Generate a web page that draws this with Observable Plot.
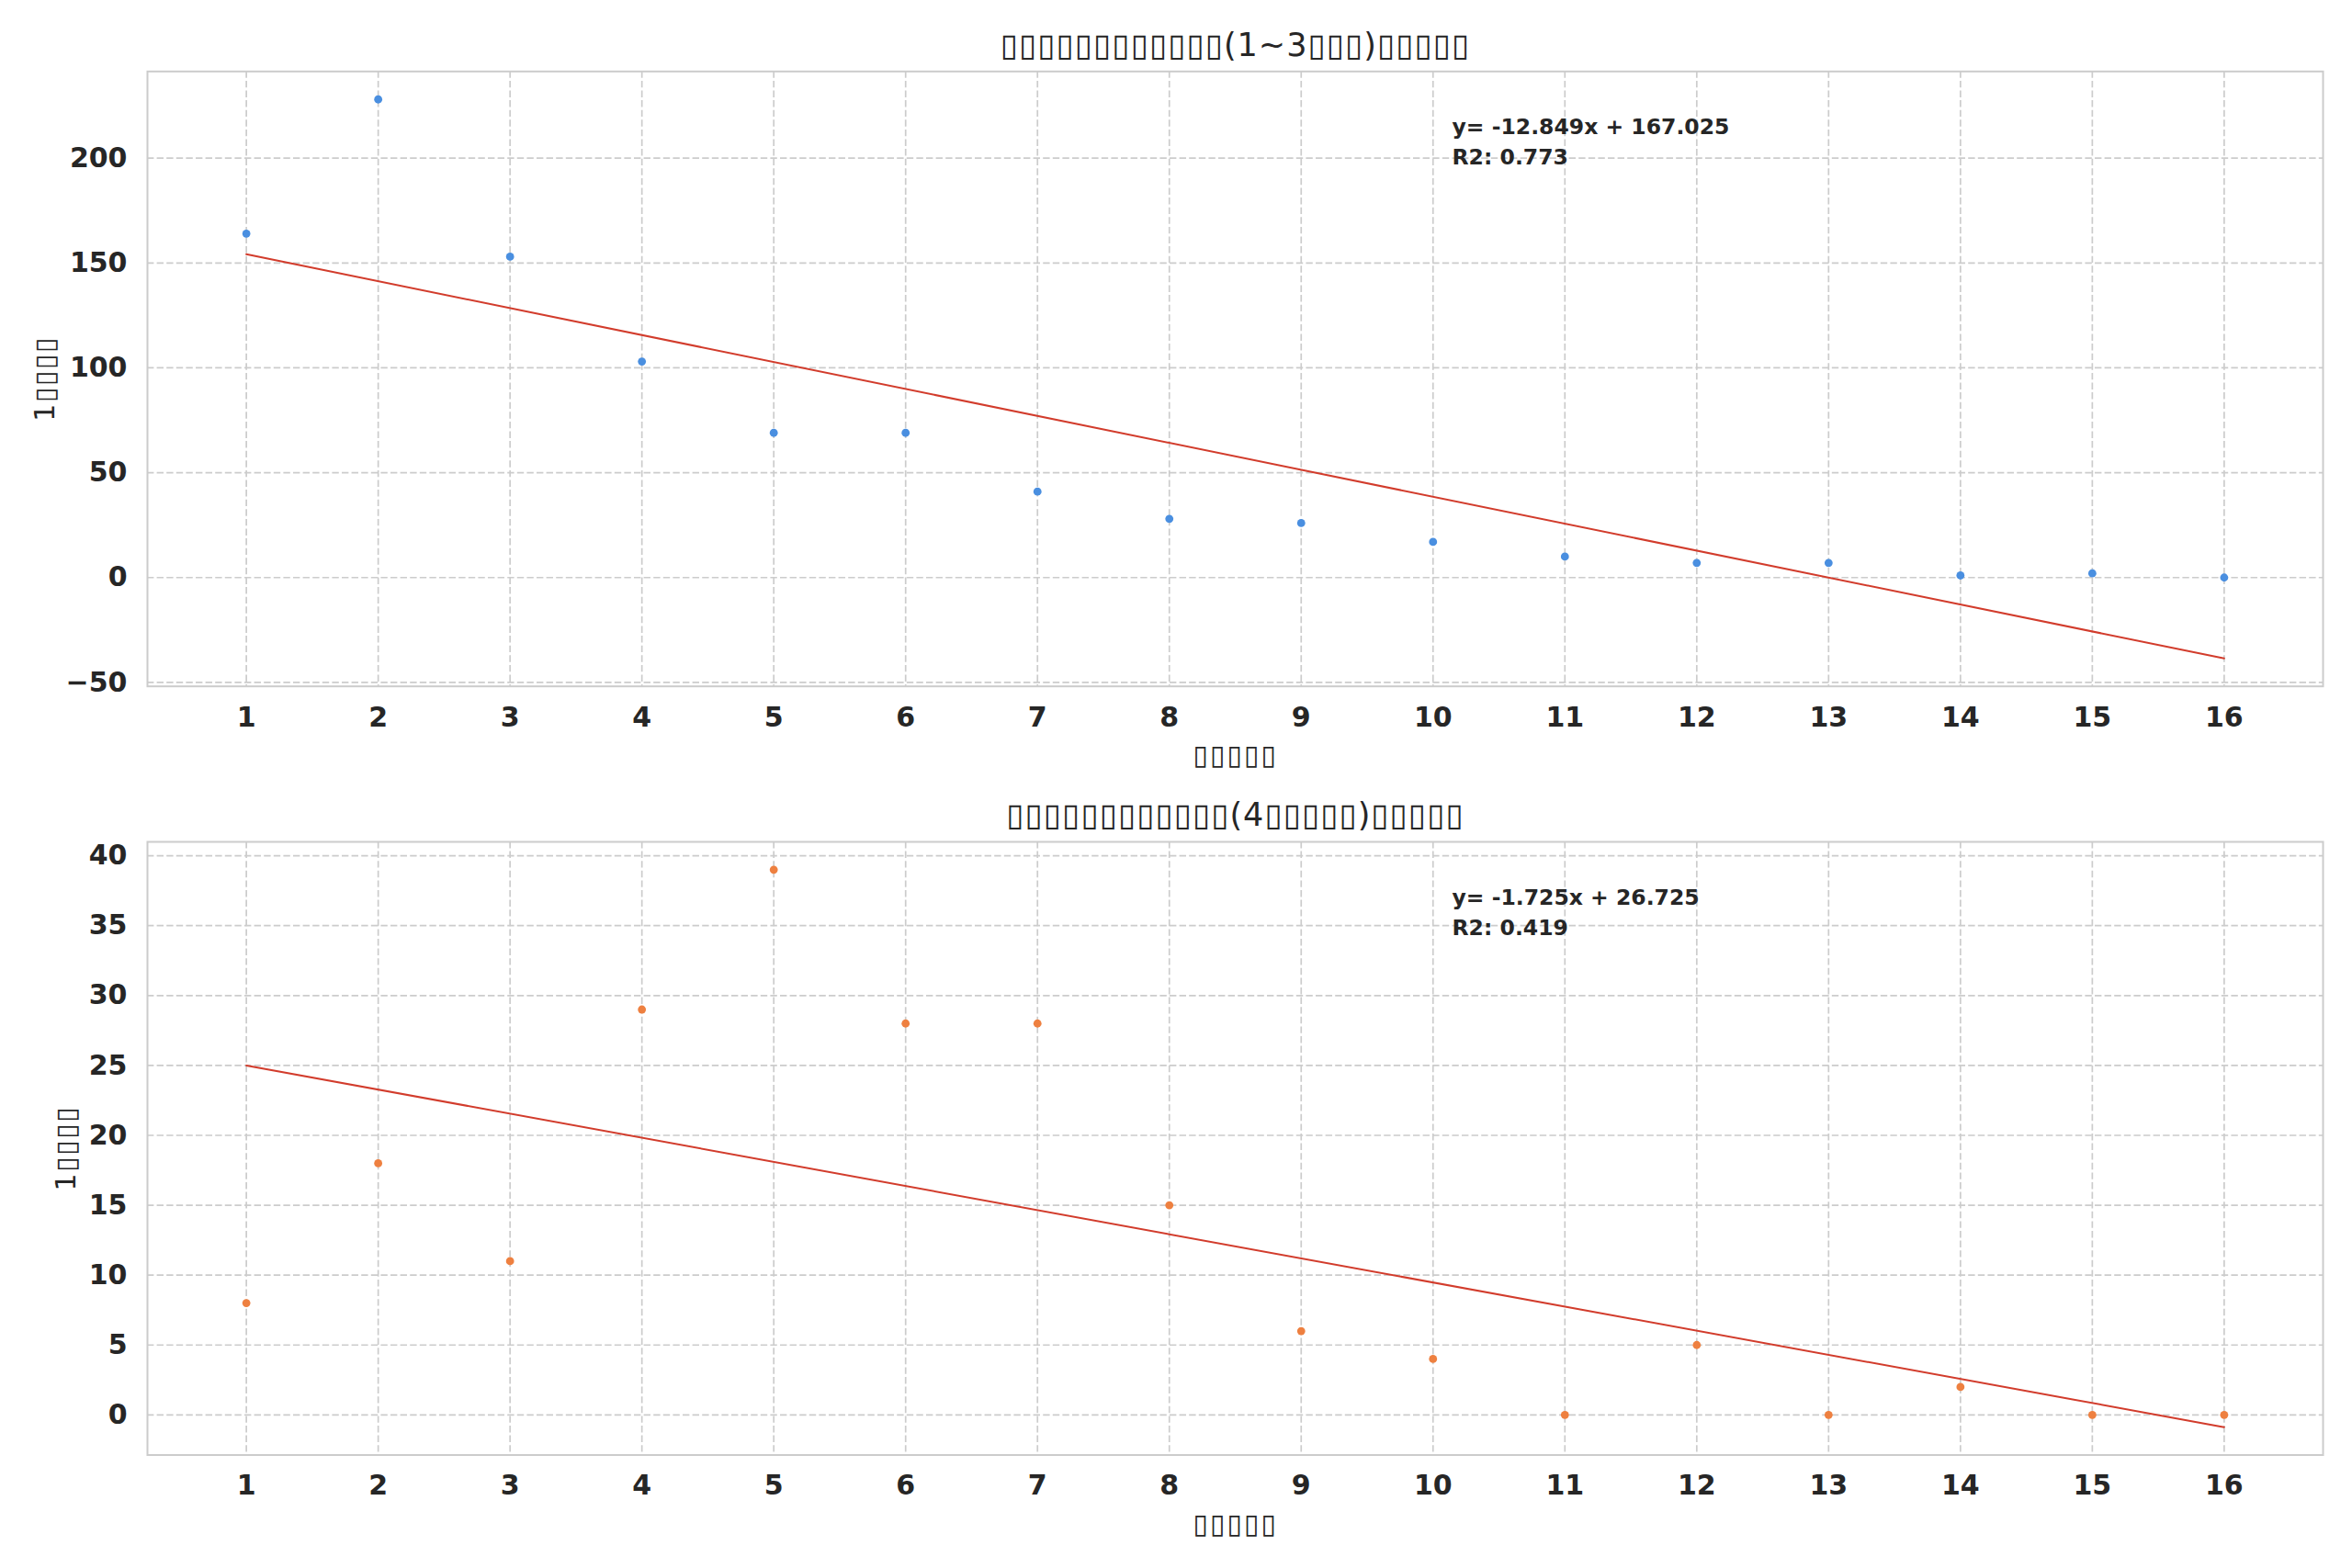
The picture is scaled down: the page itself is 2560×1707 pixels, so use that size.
<!DOCTYPE html>
<html>
<head>
<meta charset="utf-8">
<script src="https://cdn.jsdelivr.net/npm/d3@7"></script>
<script src="https://cdn.jsdelivr.net/npm/@observablehq/plot@0.6"></script>
<style>
  html, body { margin: 0; padding: 0; background: #ffffff; }
  body { width: 2560px; height: 1707px; position: relative; overflow: hidden; font-family: "DejaVu Sans", sans-serif; }
  .panel { position: absolute; left: 0; }
  .panel svg { overflow: visible; }
</style>
</head>
<body>
<div id="top" class="panel" style="top:0px"></div>
<div id="bottom" class="panel" style="top:860px"></div>
<script>
// ---- data ----
const days = [1, 2, 3, 4, 5, 6, 7, 8, 9, 10, 11, 12, 13, 14, 15, 16];
const salesShort = [164, 228, 153, 103, 69, 69, 41, 28, 26, 17, 10, 7, 7, 1, 2, 0];
const salesLong = [8, 18, 11, 29, 39, 28, 28, 15, 6, 4, 0, 5, 0, 2, 0, 0];
const yTicksShort = [-50, 0, 50, 100, 150, 200];
const yTicksLong = [0, 5, 10, 15, 20, 25, 30, 35, 40];
// text as it appears in the reference (glyphs rendered as missing-glyph boxes)
const B = "\u25AF";
const titleShort = B.repeat(12) + "(1~3" + B.repeat(3) + ")" + B.repeat(5);
const titleLong = B.repeat(12) + "(4" + B.repeat(5) + ")" + B.repeat(5);
const xLabel = B.repeat(5);
const yLabel = "1" + B.repeat(4);

const textColor = "#262626";
const gridColor = "#cccccc";
const lineColor = "#d23c2c";

function fit(xs, ys) {
  const mx = d3.mean(xs), my = d3.mean(ys);
  const sxy = d3.sum(xs, (x, i) => (x - mx) * (ys[i] - my));
  const sxx = d3.sum(xs, x => (x - mx) ** 2);
  const slope = sxy / sxx, intercept = my - slope * mx;
  const ssr = d3.sum(ys, (y, i) => (y - (slope * xs[i] + intercept)) ** 2);
  const sst = d3.sum(ys, y => (y - my) ** 2);
  return {slope, intercept, r2: 1 - ssr / sst};
}

function panel({values, color, yTicks, title, height, marginTop, marginBottom, yLabelDx}) {
  const {slope, intercept, r2} = fit(days, values);
  const lineData = [d3.min(days), d3.max(days)].map(x => ({x, y: slope * x + intercept}));
  const xlo = d3.min(days), xhi = d3.max(days), xm = (xhi - xlo) * 0.05;
  const allY = values.concat(lineData.map(d => d.y));
  const ylo = d3.min(allY), yhi = d3.max(allY), ym = (yhi - ylo) * 0.05;
  const pts = days.map((d, i) => ({x: d, y: values[i]}));
  const fmt = v => (v < 0 ? "\u2212" + Math.abs(v) : String(v));
  const eq = `y= ${slope.toFixed(3)}x + ${intercept.toFixed(3)}\nR2: ${r2.toFixed(3)}`;
  const dash = {stroke: gridColor, strokeOpacity: 1, strokeWidth: 1.7, strokeDasharray: "7.4,3.2"};
  const svg = Plot.plot({
    width: 2560,
    height,
    marginLeft: 160,
    marginRight: 32,
    marginTop,
    marginBottom,
    style: {fontFamily: "DejaVu Sans", background: "transparent", color: textColor, overflow: "visible"},
    x: {domain: [xlo - xm, xhi + xm], label: null},
    y: {domain: [ylo - ym, yhi + ym], label: null},
    marks: [
      Plot.gridX(days, dash),
      Plot.gridY(yTicks, dash),
      Plot.frame({stroke: gridColor, strokeWidth: 2}),
      Plot.axisX(days, {tickSize: 0, tickPadding: 22, fontSize: 30, fontWeight: "bold", fill: textColor, label: null, tickFormat: d => String(d)}),
      Plot.axisY(yTicks, {tickSize: 0, tickPadding: 22, fontSize: 30, fontWeight: "bold", fill: textColor, label: null, tickFormat: fmt}),
      Plot.line(lineData, {x: "x", y: "y", stroke: lineColor, strokeWidth: 2}),
      Plot.dot(pts, {x: "x", y: "y", r: 4.4, fill: color, stroke: "none"}),
      Plot.text([eq], {frameAnchor: "top-left", dx: 1420, dy: 45, textAnchor: "start", lineAnchor: "top", lineHeight: 1.4, fontSize: 23.5, fontWeight: "bold", fill: textColor}),
      Plot.text([title], {frameAnchor: "top", dy: -28.5, lineAnchor: "middle", textAnchor: "middle", fontSize: 35, fill: textColor}),
      Plot.text([xLabel], {frameAnchor: "bottom", dy: 75, lineAnchor: "middle", textAnchor: "middle", fontSize: 30, fill: textColor}),
      Plot.text([yLabel], {frameAnchor: "left", dx: yLabelDx, rotate: -90, lineAnchor: "middle", textAnchor: "middle", fontSize: 30, fill: textColor})
    ]
  });
  // spacing of the box glyphs to match the reference's missing-glyph boxes
  svg.querySelectorAll("text").forEach(t => {
    const s = t.textContent;
    if (s === title) t.style.letterSpacing = "1px";
    else if (s === xLabel) t.style.letterSpacing = "2px";
    else if (s === yLabel) t.style.letterSpacing = "1.5px";
  });
  return svg;
}

document.getElementById("top").append(panel({
  values: salesShort, color: "#4a8fe0", yTicks: yTicksShort, title: titleShort,
  height: 860, marginTop: 77.3, marginBottom: 113.3, yLabelDx: -111
}));
document.getElementById("bottom").append(panel({
  values: salesLong, color: "#ee8040", yTicks: yTicksLong, title: titleLong,
  height: 847, marginTop: 56, marginBottom: 123.5, yLabelDx: -88
}));
</script>
</body>
</html>
